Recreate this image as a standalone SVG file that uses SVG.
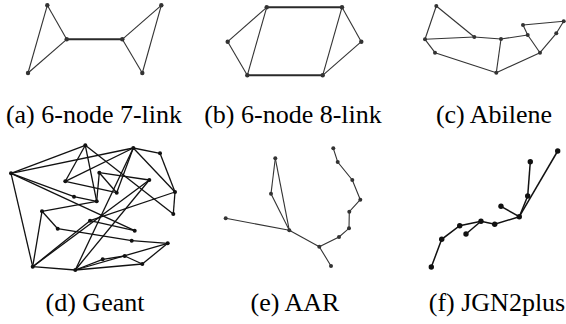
<svg xmlns="http://www.w3.org/2000/svg" width="566" height="324" viewBox="0 0 566 324">
<style>
.e{stroke:#333;stroke-width:1.1;fill:none}
.t{stroke:#2a2a2a;stroke-width:2}
.g{stroke:#111;stroke-width:1.3;fill:none}
.f{stroke:#111;stroke-width:1.5;fill:none}
.n{fill:#333}
.nb{fill:#111}
text{font-family:"Liberation Serif","Times New Roman",serif;font-size:26px;fill:#000;text-anchor:middle}
</style>
<g id="connectors">
<g class="e">
<line x1="47.3" y1="5.3" x2="66.7" y2="39.3"/>
<line x1="47.3" y1="5.3" x2="28" y2="73"/>
<line x1="28" y1="73" x2="66.7" y2="39.3"/>
<line x1="122.3" y1="39.3" x2="161.3" y2="5.3"/>
<line x1="122.3" y1="39.3" x2="142.3" y2="73"/>
<line x1="161.3" y1="5.3" x2="142.3" y2="73"/>
</g>
<line class="e t" x1="66.7" y1="39.3" x2="122.3" y2="39.3"/>
<g class="e">
<line x1="266.7" y1="7.3" x2="227.7" y2="41.7"/>
<line x1="266.7" y1="7.3" x2="247.3" y2="75.3"/>
<line x1="227.7" y1="41.7" x2="247.3" y2="75.3"/>
<line x1="342" y1="7.3" x2="361.3" y2="41.7"/>
<line x1="342" y1="7.3" x2="322.7" y2="75.3"/>
<line x1="361.3" y1="41.7" x2="322.7" y2="75.3"/>
</g>
<line class="e t" x1="266.7" y1="7.3" x2="342" y2="7.3"/>
<line class="e t" x1="247.3" y1="75.3" x2="322.7" y2="75.3"/>
<g class="e">
<line x1="436.3" y1="6" x2="425" y2="39.3"/>
<line x1="436.3" y1="6" x2="474.3" y2="37"/>
<line x1="425" y1="39.3" x2="474.3" y2="37"/>
<line x1="425" y1="39.3" x2="435" y2="52.7"/>
<line x1="435" y1="52.7" x2="496.3" y2="72.7"/>
<line x1="474.3" y1="37" x2="501" y2="39"/>
<line x1="501" y1="39" x2="496.3" y2="72.7"/>
<line x1="501" y1="39" x2="527.7" y2="35"/>
<line x1="523" y1="25" x2="563.7" y2="21.3"/>
<line x1="523" y1="25" x2="527.7" y2="35"/>
<line x1="527.7" y1="35" x2="540" y2="52.7"/>
<line x1="496.3" y1="72.7" x2="540" y2="52.7"/>
<line x1="540" y1="52.7" x2="556.3" y2="33.3"/>
<line x1="556.3" y1="33.3" x2="563.7" y2="21.3"/>
</g>
<g class="g">
<line x1="11" y1="173.3" x2="85.3" y2="145.3"/>
<line x1="11" y1="173.3" x2="133.3" y2="148"/>
<line x1="11" y1="173.3" x2="32.7" y2="266.7"/>
<polyline points="11,173.3 74,196.7 96.7,201.3"/>
<line x1="11" y1="173.3" x2="134.7" y2="230.7"/>
<line x1="85.3" y1="145.3" x2="65.3" y2="181.3"/>
<line x1="85.3" y1="145.3" x2="96.7" y2="201.3"/>
<line x1="85.3" y1="145.3" x2="173.3" y2="214"/>
<line x1="133.3" y1="148" x2="65.3" y2="181.3"/>
<line x1="133.3" y1="148" x2="160" y2="153.3"/>
<line x1="133.3" y1="148" x2="116.7" y2="192.7"/>
<line x1="133.3" y1="148" x2="75.3" y2="270"/>
<line x1="133.3" y1="148" x2="175" y2="192"/>
<line x1="160" y1="153.3" x2="175" y2="192"/>
<line x1="99.3" y1="172.7" x2="149.3" y2="180"/>
<line x1="99.3" y1="172.7" x2="96.7" y2="201.3"/>
<line x1="65.3" y1="181.3" x2="116.7" y2="192.7"/>
<line x1="175" y1="192" x2="173.3" y2="214"/>
<line x1="175" y1="192" x2="90" y2="220.7"/>
<line x1="96.7" y1="201.3" x2="42" y2="211.3"/>
<line x1="42" y1="211.3" x2="32.7" y2="266.7"/>
<line x1="42" y1="211.3" x2="57.7" y2="228.7"/>
<line x1="57.7" y1="228.7" x2="131.7" y2="240.7"/>
<line x1="90" y1="220.7" x2="32.7" y2="266.7"/>
<line x1="90" y1="220.7" x2="134.7" y2="230.7"/>
<line x1="32.7" y1="266.7" x2="75.3" y2="270"/>
<line x1="32.7" y1="266.7" x2="149.3" y2="180"/>
<line x1="75.3" y1="270" x2="149.3" y2="180"/>
<line x1="75.3" y1="270" x2="167.7" y2="243.3"/>
<line x1="75.3" y1="270" x2="102.7" y2="259.3"/>
<line x1="75.3" y1="270" x2="142.3" y2="264"/>
<line x1="131.7" y1="240.7" x2="167.7" y2="243.3"/>
<line x1="102.7" y1="259.3" x2="124.7" y2="256"/>
<line x1="124.7" y1="256" x2="142.3" y2="264"/>
<line x1="142.3" y1="264" x2="167.7" y2="243.3"/>
<line x1="116.7" y1="192.7" x2="99.3" y2="172.7"/>
</g>
<g class="e">
<polyline points="333.3,148.3 337.7,162 352.3,180 360.3,199.7 349.3,211.7 349,228.3 339,237 319.3,246.7 331,266"/>
<line x1="319.3" y1="246.7" x2="289.3" y2="230.3"/>
<line x1="289.3" y1="230.3" x2="225.7" y2="218.3"/>
<line x1="289.3" y1="230.3" x2="271" y2="193.7"/>
<line x1="271" y1="193.7" x2="275.3" y2="158.3"/>
<line x1="275.3" y1="158.3" x2="289.3" y2="230.3"/>
</g>
<g class="f">
<line x1="557.7" y1="151" x2="519.3" y2="216.7"/>
<line x1="530.3" y1="161.7" x2="527.7" y2="196"/>
<line x1="527.7" y1="196" x2="519.3" y2="216.7"/>
<line x1="501" y1="206.3" x2="519.3" y2="216.7"/>
<polyline points="519.3,216.7 494.7,224.3 481,221.3 459.7,225.7 441.7,239.3 431.3,267"/>
<line x1="481" y1="221.3" x2="466" y2="234"/>
</g>
</g>
<g id="a-nodes" class="n">
<circle cx="47.3" cy="5.3" r="2.2"/><circle cx="66.7" cy="39.3" r="2.2"/><circle cx="28" cy="73" r="2.2"/>
<circle cx="122.3" cy="39.3" r="2.2"/><circle cx="161.3" cy="5.3" r="2.2"/><circle cx="142.3" cy="73" r="2.2"/>
</g>
<g id="b-nodes" class="n">
<circle cx="266.7" cy="7.3" r="2.2"/><circle cx="342" cy="7.3" r="2.2"/><circle cx="361.3" cy="41.7" r="2.2"/>
<circle cx="322.7" cy="75.3" r="2.2"/><circle cx="247.3" cy="75.3" r="2.2"/><circle cx="227.7" cy="41.7" r="2.2"/>
</g>
<g id="c-nodes" class="n">
<circle cx="436.3" cy="6" r="2"/><circle cx="425" cy="39.3" r="2"/><circle cx="435" cy="52.7" r="2"/>
<circle cx="474.3" cy="37" r="2"/><circle cx="501" cy="39" r="2"/><circle cx="496.3" cy="72.7" r="2"/>
<circle cx="523" cy="25" r="2"/><circle cx="527.7" cy="35" r="2"/><circle cx="540" cy="52.7" r="2"/>
<circle cx="556.3" cy="33.3" r="2"/><circle cx="563.7" cy="21.3" r="2"/>
</g>
<g id="d-nodes" class="nb">
<circle cx="11" cy="173.3" r="2"/><circle cx="85.3" cy="145.3" r="2"/><circle cx="133.3" cy="148" r="2"/>
<circle cx="160" cy="153.3" r="2"/><circle cx="99.3" cy="172.7" r="2"/><circle cx="65.3" cy="181.3" r="2"/>
<circle cx="149.3" cy="180" r="2"/><circle cx="116.7" cy="192.7" r="2"/><circle cx="175" cy="192" r="2"/>
<circle cx="74" cy="196.7" r="2"/><circle cx="96.7" cy="201.3" r="2"/><circle cx="42" cy="211.3" r="2"/>
<circle cx="173.3" cy="214" r="2"/><circle cx="90" cy="220.7" r="2"/><circle cx="57.7" cy="228.7" r="2"/>
<circle cx="134.7" cy="230.7" r="2"/><circle cx="131.7" cy="240.7" r="2"/><circle cx="167.7" cy="243.3" r="2"/>
<circle cx="124.7" cy="256" r="2"/><circle cx="102.7" cy="259.3" r="2"/><circle cx="142.3" cy="264" r="2"/>
<circle cx="32.7" cy="266.7" r="2"/><circle cx="75.3" cy="270" r="2"/>
</g>
<g id="e-nodes" class="n">
<circle cx="333.3" cy="148.3" r="2"/><circle cx="337.7" cy="162" r="2"/><circle cx="352.3" cy="180" r="2"/>
<circle cx="360.3" cy="199.7" r="2"/><circle cx="349.3" cy="211.7" r="2"/><circle cx="349" cy="228.3" r="2"/>
<circle cx="339" cy="237" r="2"/><circle cx="319.3" cy="246.7" r="2"/><circle cx="331" cy="266" r="2"/>
<circle cx="289.3" cy="230.3" r="2"/><circle cx="225.7" cy="218.3" r="2"/><circle cx="271" cy="193.7" r="2"/>
<circle cx="275.3" cy="158.3" r="2"/>
</g>
<g id="f-nodes" class="nb">
<circle cx="557.7" cy="151" r="2.7"/><circle cx="530.3" cy="161.7" r="2.7"/><circle cx="527.7" cy="196" r="2.7"/>
<circle cx="501" cy="206.3" r="2.7"/><circle cx="519.3" cy="216.7" r="2.7"/><circle cx="494.7" cy="224.3" r="2.7"/>
<circle cx="481" cy="221.3" r="2.7"/><circle cx="466" cy="234" r="2.7"/><circle cx="459.7" cy="225.7" r="2.7"/>
<circle cx="441.7" cy="239.3" r="2.7"/><circle cx="431.3" cy="267" r="2.7"/>
</g>
<g id="labels">
<text x="94" y="123">(a) 6-node 7-link</text>
<text x="293" y="123">(b) 6-node 8-link</text>
<text x="494" y="123">(c) Abilene</text>
<text x="95" y="311">(d) Geant</text>
<text x="295" y="311">(e) AAR</text>
<text x="497" y="311">(f) JGN2plus</text>
</g>
</svg>
